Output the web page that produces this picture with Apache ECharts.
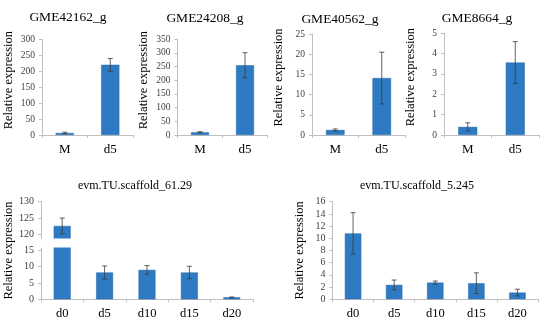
<!DOCTYPE html>
<html>
<head>
<meta charset="utf-8">
<script src="https://cdn.jsdelivr.net/npm/echarts@6.0.0/dist/echarts.min.js"></script>
<style>html,body{margin:0;padding:0;background:#fff}#c{width:550px;height:327px}</style>
</head>
<body>
<div id="c"></div>
<script>
// ---- data ----
const topCategories = ['M', 'd5'];
const bottomCategories = ['d0', 'd5', 'd10', 'd15', 'd20'];
const chartTitles = ['GME42162_g', 'GME24208_g', 'GME40562_g', 'GME8664_g', 'evm.TU.scaffold_61.29', 'evm.TU.scaffold_5.245'];
const gme42162 = [6.4, 220];
const gme42162Err = [2.5, 20];
const gme24208 = [10, 255];
const gme24208Err = [2, 46];
const gme40562 = [1.25, 14.1];
const gme40562Err = [0.25, 6.4];
const gme8664 = [0.4, 3.56];
const gme8664Err = [0.2, 1.03];
const scaffold6129 = [122.6, 8.2, 9.0, 8.2, 0.6];
const scaffold6129Err = [2.4, 2.0, 1.3, 1.9, 0.1];
const scaffold5245 = [10.8, 2.35, 2.73, 2.62, 1.09];
const scaffold5245Err = [3.4, 0.8, 0.25, 1.7, 0.55];
const yMax = [300, 350, 25, 5, 130, 16];
const yInterval = [50, 50, 5, 1, 5, 2];
const scaffold6129Ticks = [0, 5, 10, 15, 120, 125, 130];
const yBreak = {start: 16, end: 118.75};

const values = [gme42162, gme24208, gme40562, gme8664, scaffold6129, scaffold5245];
const errors = [gme42162Err, gme24208Err, gme40562Err, gme8664Err, scaffold6129Err, scaffold5245Err];

// ---- layout ----
const grids = [
  {left: 42, top: 39.3, width: 91, height: 95.7},
  {left: 177.5, top: 39.3, width: 90, height: 95.7},
  {left: 312, top: 34, width: 93, height: 101},
  {left: 444, top: 33.3, width: 95, height: 101.7},
  {left: 41, top: 201.7, width: 212, height: 97.6},
  {left: 332.5, top: 201.7, width: 205.5, height: 97.5}
];
const titlePos = [[68, 17.5], [205, 18.5], [340, 19], [477, 18], [135, 186], [417, 186]];

const FONT = 'Liberation Serif';
const BAR = '#2E7BC4';
const AXIS = '#BFBFBF';

function renderErr(params, api) {
  const x = api.value(0), y = api.value(1), e = api.value(2);
  const top = api.coord([x, y + e]);
  const bot = api.coord([x, y - e]);
  const hw = 2.5;
  const st = {stroke: '#3a3a3a', lineWidth: 0.8};
  return {type: 'group', children: [
    {type: 'line', shape: {x1: top[0], y1: top[1], x2: bot[0], y2: bot[1]}, style: st},
    {type: 'line', shape: {x1: top[0] - hw, y1: top[1], x2: top[0] + hw, y2: top[1]}, style: st},
    {type: 'line', shape: {x1: bot[0] - hw, y1: bot[1], x2: bot[0] + hw, y2: bot[1]}, style: st}
  ]};
}

const xAxis = [], yAxis = [], series = [], graphic = [];
for (let i = 0; i < 6; i++) {
  const isTop = i < 4;
  const cats = isTop ? topCategories : bottomCategories;
  xAxis.push({
    gridIndex: i, type: 'category', data: cats,
    axisLine: {lineStyle: {color: AXIS, width: 1}},
    axisTick: {show: true, length: 3, lineStyle: {color: AXIS}},
    axisLabel: {color: '#000', fontFamily: FONT, fontSize: isTop ? 13 : 12.5, margin: 8}
  });
  const y = {
    gridIndex: i, type: 'value', min: 0, max: yMax[i], interval: yInterval[i],
    name: 'Relative expression', nameLocation: 'middle', nameGap: isTop ? 27 : 26,
    nameTextStyle: {fontFamily: FONT, fontSize: 12.5, color: '#000', padding: isTop ? [0, 0, 0, 14] : 0},
    axisLine: {show: true, lineStyle: {color: AXIS, width: 1}},
    axisTick: {show: true, length: 3, lineStyle: {color: AXIS}},
    splitLine: {show: false},
    axisLabel: {color: '#404040', fontFamily: FONT, fontSize: isTop ? 9.5 : 10, margin: 7}
  };
  if (i === 4) {
    y.breaks = [{start: yBreak.start, end: yBreak.end, gap: 2.6}];
    y.breakArea = {show: true, itemStyle: {color: '#fff', borderColor: '#fff', borderWidth: 0, opacity: 1}, zigzagAmplitude: 0, expandOnClick: false};
    y.z = 5;
    y.axisLabel.customValues = scaffold6129Ticks;
    y.axisTick.customValues = scaffold6129Ticks;
  }
  yAxis.push(y);
  series.push({
    type: 'bar', xAxisIndex: i, yAxisIndex: i, data: values[i], barWidth: '40%',
    itemStyle: {color: BAR, borderColor: '#2769AA', borderWidth: 0.5}, silent: true, animation: false
  });
  series.push({
    type: 'custom', xAxisIndex: i, yAxisIndex: i, renderItem: renderErr, z: 3,
    data: values[i].map((v, k) => [k, v, errors[i][k]]),
    encode: {x: 0, y: 1}, silent: true, animation: false
  });
  graphic.push({
    type: 'text', x: titlePos[i][0], y: titlePos[i][1],
    style: {text: chartTitles[i], align: 'center', verticalAlign: 'middle', font: (isTop ? '13.5px ' : '12px ') + '"Liberation Serif"', fill: '#000'}
  });
}

const chart = echarts.init(document.getElementById('c'), null, {renderer: 'canvas'});
chart.setOption({
  animation: false,
  backgroundColor: '#fff',
  grid: grids,
  xAxis: xAxis,
  yAxis: yAxis,
  series: series,
  graphic: graphic
});
</script>
</body>
</html>
